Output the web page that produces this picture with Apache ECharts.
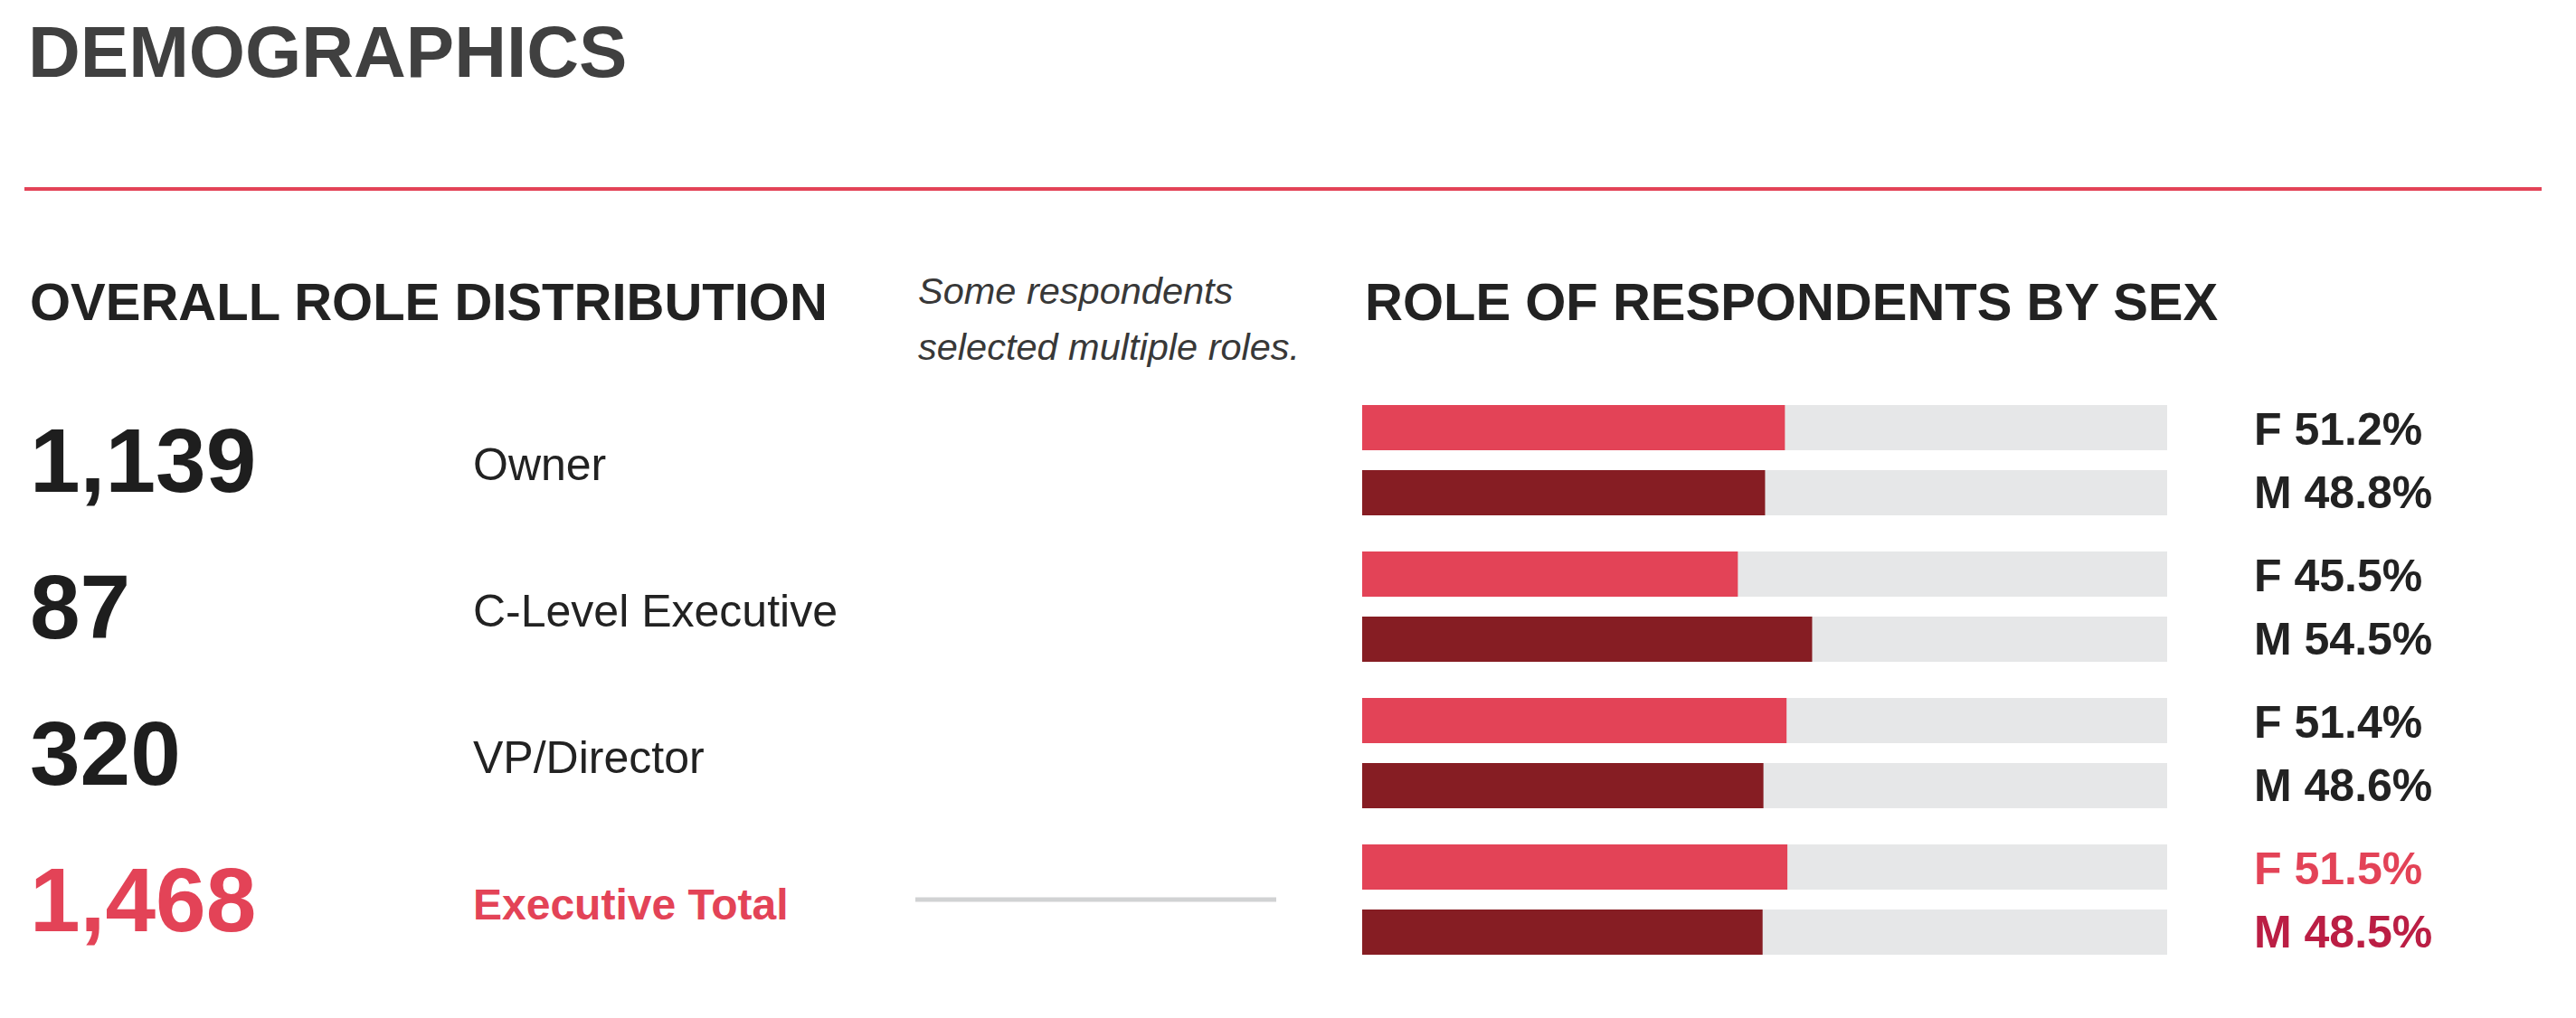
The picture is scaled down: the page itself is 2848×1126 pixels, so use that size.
<!DOCTYPE html>
<html>
<head>
<meta charset="utf-8">
<script src="https://cdn.jsdelivr.net/npm/echarts@6/dist/echarts.min.js"></script>
<style>
html,body{margin:0;padding:0;background:#fff;}
#chart{width:2848px;height:1126px;}
</style>
</head>
<body>
<div id="chart"></div>
<script>
// ---- data ----
const roles = ['Owner', 'C-Level Executive', 'VP/Director', 'Executive Total'];
const roleCounts = [1139, 87, 320, 1468];
const femalePct = [51.2, 45.5, 51.4, 51.5];
const malePct = [48.8, 54.5, 48.6, 48.5];
const pageTitle = 'DEMOGRAPHICS';
const leftTitle = 'OVERALL ROLE DISTRIBUTION';
const rightTitle = 'ROLE OF RESPONDENTS BY SEX';
const noteLines = ['Some respondents', 'selected multiple roles.'];

const RED = '#e34357';
const DARKRED = '#861d23';
const FONT = '"Liberation Sans", Arial, sans-serif';
const lastIdx = roles.length - 1;

const chart = echarts.init(document.getElementById('chart'), null, {renderer: 'svg'});

function fmtCount(v) { return v.toLocaleString('en-US'); }

chart.setOption({
  backgroundColor: '#ffffff',
  animation: false,
  textStyle: {fontFamily: FONT},
  graphic: [
    {type: 'text', style: {text: pageTitle, x: 31, y: 57, font: 'bold 80px ' + FONT, fill: '#404040', verticalAlign: 'middle'}},
    {type: 'line', shape: {x1: 27, y1: 209, x2: 2810, y2: 209}, style: {stroke: RED, lineWidth: 4}},
    {type: 'text', style: {text: leftTitle, x: 33, y: 333, font: 'bold 58px ' + FONT, fill: '#222222', verticalAlign: 'middle'}},
    {type: 'text', style: {text: rightTitle, x: 1509, y: 333, font: 'bold 58px ' + FONT, fill: '#222222', verticalAlign: 'middle'}},
    {type: 'text', style: {text: noteLines[0], x: 1015, y: 321, font: 'italic 41.5px ' + FONT, fill: '#383838', verticalAlign: 'middle'}},
    {type: 'text', style: {text: noteLines[1], x: 1015, y: 383, font: 'italic 41.5px ' + FONT, fill: '#383838', verticalAlign: 'middle'}}
  ],
  grid: {left: 1506, width: 890, top: 428, height: 648, containLabel: false, outerBoundsMode: 'none'},
  xAxis: {type: 'value', min: 0, max: 97.5, show: false},
  yAxis: [
    {
      type: 'category', inverse: true, data: roles, position: 'left',
      axisLine: {show: false}, axisTick: {show: false},
      axisLabel: {
        interval: 0, align: 'left', margin: 1473,
        formatter: function (v, i) {
          if (i === lastIdx) return '{nt|' + fmtCount(roleCounts[i]) + '}{rt|' + v + '}{ln| }';
          return '{n|' + fmtCount(roleCounts[i]) + '}{r|' + v + '}';
        },
        rich: {
          n: {fontSize: 100, fontWeight: 'bold', color: '#1e1e1e', width: 490, fontFamily: FONT},
          r: {fontSize: 50, color: '#222222', width: 489, fontFamily: FONT, padding: [10, 0, 0, 0]},
          nt: {fontSize: 100, fontWeight: 'bold', color: RED, width: 490, fontFamily: FONT},
          rt: {fontSize: 48, fontWeight: 'bold', color: RED, width: 489, fontFamily: FONT, padding: [10, 0, 0, 0]},
          ln: {width: 399, height: 5, backgroundColor: '#d1d2d3', fontSize: 5, lineHeight: 5}
        }
      }
    },
    {
      type: 'category', inverse: true, data: roles, position: 'right',
      axisLine: {show: false}, axisTick: {show: false},
      axisLabel: {
        interval: 0, align: 'left', margin: 96,
        formatter: function (v, i) {
          const f = 'F ' + femalePct[i].toFixed(1) + '%';
          const m = 'M ' + malePct[i].toFixed(1) + '%';
          if (i === lastIdx) return '{fr|' + f + '}\n{mr|' + m + '}';
          return '{f|' + f + '}\n{m|' + m + '}';
        },
        rich: {
          f: {fontSize: 50, fontWeight: 'bold', color: '#222222', lineHeight: 72, fontFamily: FONT, padding: [4, 0, 0, 0]},
          m: {fontSize: 50, fontWeight: 'bold', color: '#222222', lineHeight: 72, fontFamily: FONT},
          fr: {fontSize: 50, fontWeight: 'bold', color: RED, lineHeight: 72, fontFamily: FONT, padding: [4, 0, 0, 0]},
          mr: {fontSize: 50, fontWeight: 'bold', color: '#bb1e44', lineHeight: 72, fontFamily: FONT}
        }
      }
    }
  ],
  series: [
    {
      name: 'F', type: 'bar', yAxisIndex: 0, data: femalePct,
      barWidth: 50, barGap: '44%',
      itemStyle: {color: RED},
      showBackground: true, backgroundStyle: {color: '#e6e7e8'}
    },
    {
      name: 'M', type: 'bar', yAxisIndex: 0, data: malePct,
      barWidth: 50, barGap: '44%',
      itemStyle: {color: DARKRED},
      showBackground: true, backgroundStyle: {color: '#e6e7e8'}
    }
  ]
});
</script>
</body>
</html>
